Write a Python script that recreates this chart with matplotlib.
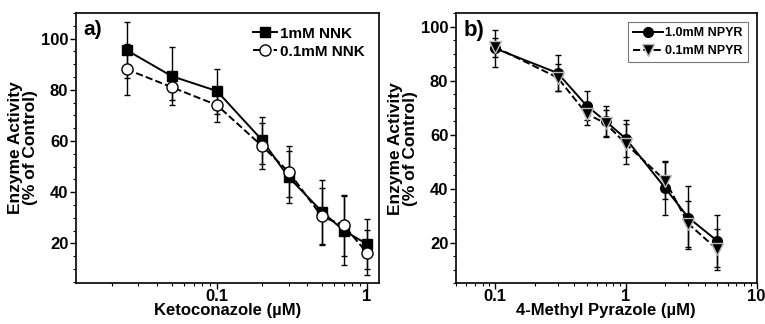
import numpy as np
import matplotlib
matplotlib.use('Agg')
import matplotlib.pyplot as plt
from matplotlib.ticker import MultipleLocator, NullFormatter, LogLocator

plt.rcParams['font.family'] = ['Liberation Sans', 'DejaVu Sans']
plt.rcParams['font.weight'] = 'bold'

# panel a: ketoconazole
keto_x = [0.025, 0.05, 0.1, 0.2, 0.3, 0.5, 0.7, 1.0]
nnk_1 = [95.5, 85.3, 79.5, 60.3, 45.9, 32.4, 25.0, 19.7]
nnk_1_err = [11.0, 11.3, 8.8, 9.2, 10.0, 12.5, 13.5, 9.7]
nnk_01 = [88.0, 81.0, 74.0, 58.0, 48.0, 30.5, 27.0, 16.3]
nnk_01_err = [10.0, 5.0, 6.5, 9.0, 10.0, 11.0, 12.0, 8.8]

# panel b: 4-methyl pyrazole
mp_x = [0.1, 0.3, 0.5, 0.7, 1.0, 2.0, 3.0, 5.0]
npyr_1 = [92.0, 82.9, 70.8, 65.0, 58.5, 40.2, 29.3, 20.6]
npyr_1_err = [7.0, 6.5, 5.5, 5.5, 6.8, 10.0, 11.8, 9.5]
npyr_01 = [92.5, 81.2, 67.8, 64.2, 56.6, 43.0, 27.0, 17.5]
npyr_01_err = [3.5, 5.0, 4.0, 5.0, 7.5, 7.0, 8.5, 7.5]

fig = plt.figure(figsize=(7.65, 3.24), dpi=100)
ax1 = fig.add_axes([0.0993, 0.1265, 0.396, 0.8335])
ax2 = fig.add_axes([0.596, 0.1265, 0.393, 0.832])

ekw = dict(capsize=2.5, elinewidth=1.0, capthick=1.0, ecolor='black')

a1 = ax1.errorbar(keto_x, nnk_1, yerr=nnk_1_err, fmt='-s', color='black', lw=1.4,
                  ms=7.5, mfc='black', mec='black', **ekw)
a2 = ax1.errorbar(keto_x, nnk_01, yerr=nnk_01_err, fmt='--o', color='black', lw=1.4,
                  ms=8, mfc='white', mec='black', **ekw)

b1 = ax2.errorbar(mp_x, npyr_1, yerr=npyr_1_err, fmt='-o', color='black', lw=1.4,
                  ms=7, mfc='black', mec='black', **ekw)
b2 = ax2.errorbar(mp_x, npyr_01, yerr=npyr_01_err, fmt='--v', color='black', lw=1.4,
                  ms=8, mfc='black', mec='#bbbbbb', **ekw)

ax1.set_xscale('log')
ax1.set_xlim(0.0115, 1.2)
ax1.set_ylim(4.5, 110)
ax1.set_xticks([0.1, 1])
ax1.set_xticklabels(['0.1', '1'])

ax2.set_xscale('log')
ax2.set_xlim(0.05, 10)
ax2.set_ylim(5, 105)
ax2.set_xticks([0.1, 1, 10])
ax2.set_xticklabels(['0.1', '1', '10'])

for ax in (ax1, ax2):
    ax.yaxis.set_major_locator(MultipleLocator(20))
    ax.yaxis.set_minor_locator(MultipleLocator(5))
    ax.xaxis.set_minor_locator(LogLocator(base=10, subs=np.arange(2, 10)))
    ax.xaxis.set_minor_formatter(NullFormatter())
    ax.tick_params(which='major', direction='out', length=4, width=1, labelsize=12)
    ax.tick_params(which='minor', direction='out', length=2.5, width=0.8)
    ax.tick_params(axis='x', pad=0.5)
    ax.tick_params(axis='y', pad=1.5)
    for lbl in ax.get_xticklabels() + ax.get_yticklabels():
        lbl.set_fontweight('bold')
    for s in ax.spines.values():
        s.set_linewidth(1.2)
    ax.set_ylabel('Enzyme Activity\n(% of Control)', fontsize=12.5, fontweight='bold',
                  labelpad=2, linespacing=1.0)

ax1.set_xlabel('Ketoconazole (\u00b5M)', fontsize=12, fontweight='bold', labelpad=-1)
ax2.set_xlabel('4-Methyl Pyrazole (\u00b5M)', fontsize=12, fontweight='bold', labelpad=-1)

ax1.text(0.025, 0.975, 'a)', transform=ax1.transAxes, fontsize=15, fontweight='bold',
         va='top', ha='left')
ax2.text(0.025, 0.975, 'b)', transform=ax2.transAxes, fontsize=16, fontweight='bold',
         va='top', ha='left')

leg1 = ax1.legend([a1.lines[0], a2.lines[0]], ['1mM NNK', '0.1mM NNK'],
                  loc='upper right', frameon=False, fontsize=11, handlelength=1.6,
                  handletextpad=0.2, borderaxespad=0.5, labelspacing=0.25)
for t in leg1.get_texts():
    t.set_fontweight('bold')
leg2 = ax2.legend([b1.lines[0], b2.lines[0]], ['1.0mM NPYR', '0.1mM NPYR'],
                  loc='upper right', frameon=True, fancybox=False, fontsize=9,
                  handlelength=2.4, handletextpad=0.2, borderaxespad=0.7, labelspacing=0.5,
                  edgecolor='#555555')
leg2.get_frame().set_linewidth(0.8)
for t in leg2.get_texts():
    t.set_fontweight('bold')

fig.savefig('out.png', dpi=100)
